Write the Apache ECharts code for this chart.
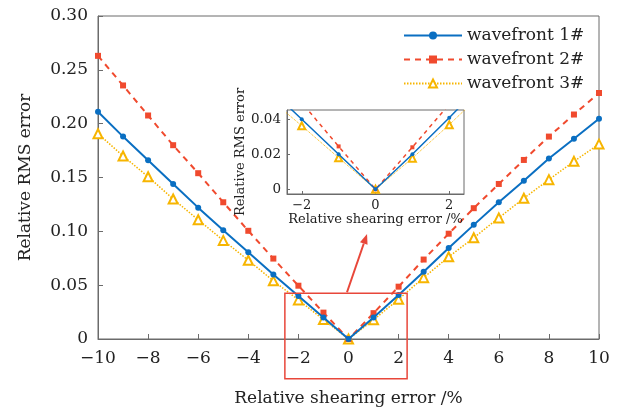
<!DOCTYPE html>
<html><head><meta charset="utf-8">
<script src="https://cdn.jsdelivr.net/npm/echarts@6/dist/echarts.min.js"></script>
<style>html,body{margin:0;padding:0;background:#fff}#c{width:619px;height:412px}</style>
</head><body><div id="c"></div>
<script>
const shearErr   = [-10,-9,-8,-7,-6,-5,-4,-3,-2,-1,0,1,2,3,4,5,6,7,8,9,10];
const wavefront1 = [0.211,0.188,0.166,0.144,0.122,0.101,0.0806,0.060,0.040,0.020,0,0.020,0.0409,0.0624,0.0846,0.106,0.127,0.147,0.1676,0.186,0.2045];
const wavefront2 = [0.263,0.2355,0.2076,0.180,0.154,0.127,0.1005,0.0747,0.0495,0.0245,0,0.024,0.0486,0.0738,0.0978,0.1215,0.144,0.1663,0.188,0.2085,0.2285];
const wavefront3 = [0.1907,0.170,0.1507,0.130,0.1107,0.0916,0.0732,0.054,0.0363,0.018,0,0.0178,0.0369,0.057,0.0763,0.094,0.1125,0.1307,0.148,0.165,0.181];
const seriesNames = ['wavefront 1#','wavefront 2#','wavefront 3#'];
const insetXTicks = [-2,0,2];
const insetYTicks = [0,0.02,0.04];

const FONT = 'DejaVu Serif';
const TXT = '#222';
const AX = '#6b6b6b';
const C1 = '#0a6fc2', C2 = '#f04a2e', C3 = '#f7b500';

function fmtNum(v, dec){
  if (v === 0) return '0';
  const s = Math.abs(v).toFixed(dec);
  return (v < 0 ? '\u2212' : '') + s;
}
function pts(arr){ return shearErr.map((x,i)=>[x, arr[i]]); }

const chart = echarts.init(document.getElementById('c'), null, {renderer:'canvas'});

function axisCommon(){
  return {
    axisLine:{show:true, onZero:false, lineStyle:{color:AX, width:1}},
    axisTick:{show:true, inside:true, length:5, lineStyle:{color:AX}},
    splitLine:{show:false},
  };
}

const mainStyles = [
  {color:C1, line:{width:2, type:'solid'}, symbol:'circle', size:6},
  {color:C2, line:{width:2, type:[6,5]}, symbol:'rect', size:6},
  {color:C3, line:{width:1.5, type:[1.5,1.5]}, symbol:'emptyTriangle', size:9},
];
const dataSets = [wavefront1, wavefront2, wavefront3];

const series = [];
dataSets.forEach((d,i)=>{
  const st = mainStyles[i];
  series.push({
    name: seriesNames[i], type:'line', xAxisIndex:0, yAxisIndex:0,
    data: pts(d), symbol: st.symbol, symbolSize: st.size, showAllSymbol:true,
    color: st.color,
    lineStyle:{color:st.color, width:st.line.width, type:st.line.type},
    itemStyle:{color:st.color, borderColor:st.color, borderWidth: i===2?1.5:0},
    z: 3 - i
  });
});
dataSets.forEach((d,i)=>{
  const st = mainStyles[i];
  series.push({
    name: seriesNames[i], type:'line', xAxisIndex:1, yAxisIndex:1, clip:true,
    data: pts(d), symbol: st.symbol, symbolSize: i===2?7:4, showAllSymbol:true,
    color: st.color,
    lineStyle:{color:st.color, width: i===2?1:1.5, type: i===1?[4,4]:(i===2?[1,1]:'solid')},
    itemStyle:{color:st.color, borderColor:st.color, borderWidth: i===2?1:0},
    z: 13 - i
  });
});

chart.setOption({
  animation:false,
  backgroundColor:'#fff',
  textStyle:{fontFamily:FONT, color:TXT},
  grid:[
    {left:98, right:20, top:16, bottom:71, show:true, borderColor:AX, borderWidth:1, backgroundColor:'transparent'},
    {left:287, top:110, width:177, height:84, show:true, borderColor:AX, borderWidth:1, backgroundColor:'#fff', z:10}
  ],
  legend:{
    orient:'vertical', left:398, top:22, itemWidth:58, itemHeight:10, itemGap:7,
    data: seriesNames,
    textStyle:{fontFamily:FONT, fontSize:17, color:TXT}
  },
  xAxis:[
    Object.assign(axisCommon(), {
      type:'value', gridIndex:0, min:-10, max:10, interval:2,
      axisLabel:{fontFamily:FONT, fontSize:17, color:TXT, margin:11, formatter:v=>fmtNum(v,0)},
      name:'Relative shearing error /%', nameLocation:'middle', nameGap:51,
      nameTextStyle:{fontFamily:FONT, fontSize:17, color:TXT}
    }),
    Object.assign(axisCommon(), {
      type:'value', gridIndex:1, min:-2.4, max:2.4, z:10,
      axisTick:{show:true, inside:true, length:3, lineStyle:{color:AX}, customValues:insetXTicks},
      axisLabel:{fontFamily:FONT, fontSize:13, color:TXT, margin:5, customValues:insetXTicks, formatter:v=>fmtNum(v,0)},
      name:'Relative shearing error /%', nameLocation:'middle', nameGap:16,
      nameTextStyle:{fontFamily:FONT, fontSize:13, color:TXT}
    })
  ],
  yAxis:[
    Object.assign(axisCommon(), {
      type:'value', gridIndex:0, min:0, max:0.3, interval:0.05,
      axisLabel:{fontFamily:FONT, fontSize:17, color:TXT, margin:10, formatter:v=>fmtNum(v,2)},
      name:'Relative RMS error', nameLocation:'middle', nameGap:64,
      nameTextStyle:{fontFamily:FONT, fontSize:17, color:TXT}
    }),
    Object.assign(axisCommon(), {
      type:'value', gridIndex:1, min:-0.0027, max:0.0453, z:10,
      axisTick:{show:true, inside:true, length:3, lineStyle:{color:AX}, customValues:insetYTicks},
      axisLabel:{fontFamily:FONT, fontSize:13.5, color:TXT, margin:6, customValues:insetYTicks, formatter:v=>fmtNum(v,2)},
      name:'Relative RMS error', nameLocation:'middle', nameGap:38,
      nameTextStyle:{fontFamily:FONT, fontSize:13, color:TXT}
    })
  ],
  series: series
});

// annotation: zoom box and arrow
const p = (x,y)=>chart.convertToPixel({gridIndex:0},[x,y]);
const tl = p(-2.54, 0.0424), br = p(2.34, -0.0369);
const a0 = p(-0.06, 0.0434), a1 = p(0.74, 0.0975);
const ang = Math.atan2(a1[1]-a0[1], a1[0]-a0[0]);
const hl = 10, hw = 4;
const bx = a1[0]-hl*Math.cos(ang), by = a1[1]-hl*Math.sin(ang);
const nx = -Math.sin(ang), ny = Math.cos(ang);
const RED = '#e8473a';
chart.setOption({
  graphic:[
    {type:'rect', shape:{x:tl[0], y:tl[1], width:br[0]-tl[0], height:br[1]-tl[1]},
     style:{fill:'none', stroke:RED, lineWidth:1.5}, z:20},
    {type:'line', shape:{x1:a0[0], y1:a0[1], x2:bx, y2:by}, style:{stroke:RED, lineWidth:2}, z:20},
    {type:'polygon', shape:{points:[[a1[0],a1[1]],[bx+nx*hw,by+ny*hw],[bx-nx*hw,by-ny*hw]]}, style:{fill:RED}, z:20}
  ]
});
</script>
</body></html>
